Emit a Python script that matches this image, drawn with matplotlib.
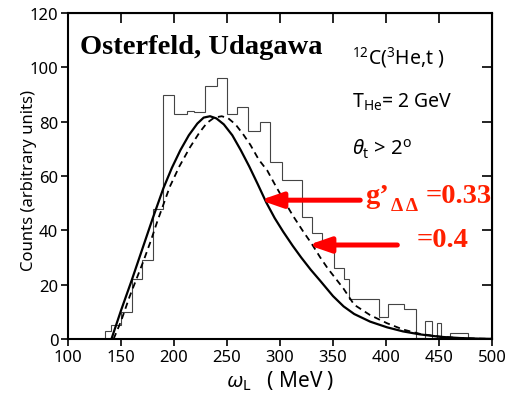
import numpy as np
import matplotlib.pyplot as plt

plt.rcParams['font.family'] = ['Noto Sans', 'DejaVu Sans']
plt.rcParams['font.stretch'] = 'extra-condensed'
plt.rcParams['mathtext.fontset'] = 'custom'
plt.rcParams['mathtext.rm'] = 'Noto Sans:stretch=extra-condensed'
plt.rcParams['mathtext.it'] = 'Noto Sans:italic:stretch=extra-condensed'
plt.rcParams['mathtext.default'] = 'rm'

# 实验谱（直方图）：道边界与计数
hist_edges = [135, 141, 150, 160, 170, 180, 190, 200, 212, 219,
              229, 241, 250, 259, 270, 281, 291, 302, 321, 330,
              340, 351, 360, 365, 393, 402, 417, 428, 437, 443,
              448, 452, 460, 477]
hist_counts = [3, 5, 10, 22, 29, 48, 90, 83, 84, 83.5,
               93, 96, 83, 85.5, 76.5, 80, 65, 58.5, 45, 39,
               33.5, 26.3, 22, 14.7, 8, 12.9, 11, 0.4, 6.7, 0.4,
               6, 0.4, 2.2]

# 理论曲线 g'=0.33（实线）
omega_033 = [141, 150, 160, 170, 180, 190, 198, 206, 214, 222,
             228, 234, 240, 247, 255, 263, 271, 279, 287, 295,
             303, 312, 320, 329, 338, 350, 360, 370, 385, 401,
             416, 432, 451, 470, 490, 500]
counts_033 = [0, 10.5, 21.5, 33, 44.5, 55.5, 63, 69.5, 75, 79.3,
              81.5, 82, 81.2, 79, 75, 69.5, 63.5, 57, 50.3, 44.5,
              39.5, 34.3, 30, 25.5, 21.4, 15.8, 12, 9.2, 6.4, 4.3,
              2.8, 1.7, 0.8, 0.35, 0.1, 0.05]

# 理论曲线 g'=0.4（虚线）
omega_04 = [143, 150, 158, 165, 171, 178, 184, 190, 196, 205,
            215, 224, 231, 238, 245, 251, 258, 265, 272, 280,
            288, 295, 303, 312, 322, 330, 338, 345, 352, 360,
            370, 385, 401, 416, 432, 448, 465, 485, 500]
counts_04 = [0, 6.5, 15.5, 22.5, 28.5, 36, 43, 49.5, 56, 63.5,
             70.5, 76, 79.5, 81.5, 82, 81.3, 79, 75.5, 71.5, 66,
             62, 57, 51.5, 45.5, 39.5, 35, 30, 26, 22.5, 18.5,
             12.6, 8.8, 5.8, 3.5, 1.9, 1.0, 0.45, 0.15, 0.05]

xticks = [100, 150, 200, 250, 300, 350, 400, 450, 500]
yticks = [0, 20, 40, 60, 80, 100, 120]

W, H = 506, 402
fig = plt.figure(figsize=(W / 100, H / 100), dpi=100)
ax = fig.add_axes([68 / W, 1 - 340 / H, (492 - 68) / W, (340 - 14) / H])

ax.stairs(hist_counts, hist_edges, color='#444444', lw=0.8)
ax.plot(omega_033, counts_033, color='black', lw=1.6)
ax.plot(omega_04, counts_04, color='black', lw=1.3, dashes=(3.5, 2.5))

ax.set_xlim(100, 500)
ax.set_ylim(0, 120)
ax.set_xticks(xticks)
ax.set_yticks(yticks)
for s in ax.spines.values():
    s.set_linewidth(1.5)
ax.tick_params(direction='out', length=5, width=1.2, labelsize=12, pad=2)

# 上、右边框的内向刻度
top = ax.secondary_xaxis('top')
top.set_xticks(xticks)
top.tick_params(direction='in', length=7, width=1.2, labeltop=False)
right = ax.secondary_yaxis('right')
right.set_yticks(yticks)
right.tick_params(direction='in', length=7, width=1.2, labelright=False)

ax.set_ylabel('Counts (arbitrary units)', fontsize=12)
ax.yaxis.set_label_coords(-0.072, 0.49)
ax.set_xlabel(r'$\mathit{\omega}_{L}$   ( MeV )', fontsize=15, labelpad=3)

ax.text(100 + (80 - 68) / 1.0585, (340 - 54) / 2.72, 'Osterfeld, Udagawa',
        family='Liberation Serif', weight='bold', fontsize=20.5, va='baseline')

tx = 100 + (352 - 68) / 1.0585
ax.text(tx, (340 - 64) / 2.72, r'$^{12}$C($^{3}$He,t )', fontsize=14, va='baseline')
ax.text(tx, (340 - 107) / 2.72, r'T$_{\mathrm{He}}$= 2 GeV', fontsize=14, va='baseline')
ax.text(tx, (340 - 155) / 2.72, r'$\mathit{\theta}_{t}$ > 2$^{\mathrm{o}}$', fontsize=14.5, va='baseline')

# 红色标注：箭头指向两条理论曲线
red = '#ff2000'
arrow = dict(arrowstyle='-|>,head_length=1.3,head_width=0.45', color='#ff0000',
             lw=3.6, shrinkA=0, shrinkB=0, mutation_scale=10)
ax.annotate('', xy=(281.3, 51.1), xytext=(375.7, 51.1), arrowprops=arrow,
            annotation_clip=False)
ax.annotate('', xy=(326.6, 34.6), xytext=(410.7, 34.6), arrowprops=arrow,
            annotation_clip=False)

serif = dict(family='Liberation Serif', weight='bold', color=red, va='baseline',
             clip_on=False)
ax.text(100 + (365 - 68) / 1.0585, (340 - 203) / 2.72, 'g’', fontsize=20.5, **serif)
ax.text(100 + (391 - 68) / 1.0585, (340 - 211) / 2.72, 'Δ Δ', fontsize=14, **serif)
ax.text(100 + (425 - 68) / 1.0585, (340 - 203) / 2.72, '=0.33', fontsize=20.5, **serif)
ax.text(100 + (416 - 68) / 1.0585, (340 - 247) / 2.72, '=0.4', fontsize=20.5, **serif)

fig.savefig('out.png', dpi=100)
